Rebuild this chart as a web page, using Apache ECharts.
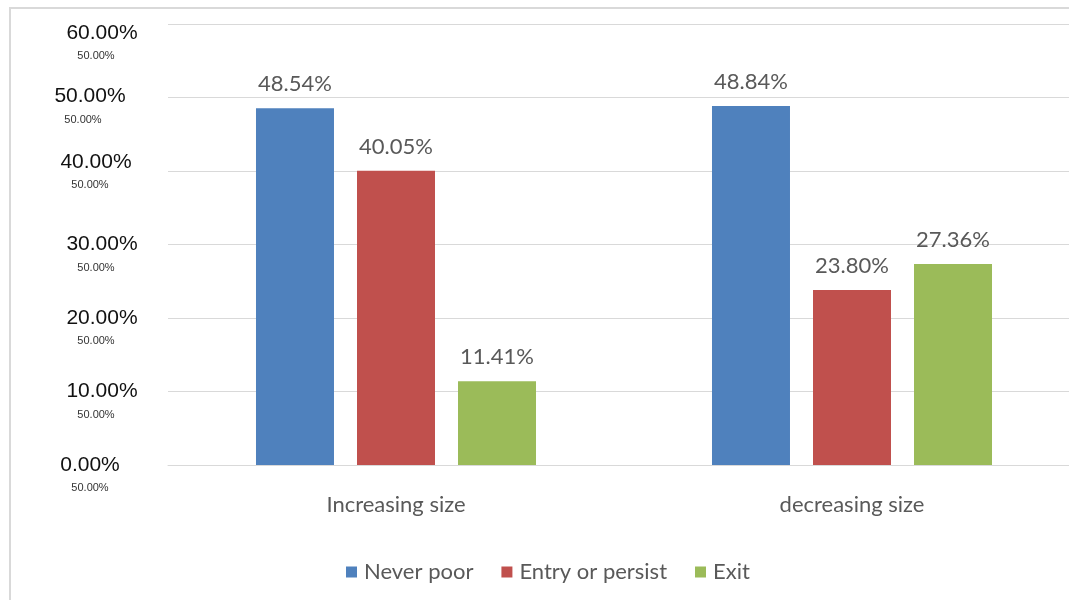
<!DOCTYPE html>
<html>
<head>
<meta charset="utf-8">
<title>Poverty transitions by household size change</title>
<script src="https://cdn.jsdelivr.net/npm/echarts@6/dist/echarts.min.js"></script>
<style>
  html, body { margin: 0; padding: 0; background: #ffffff; }
  #chart { width: 1069px; height: 600px; }
</style>
</head>
<body>
<div id="chart"></div>
<script>
// Household size change groups
const categories = ['Increasing size', 'decreasing size'];

// Share of households in each poverty transition (%)
const neverPoor = [48.54, 48.84];
const entryOrPersist = [40.05, 23.80];
const exitPoverty = [11.41, 27.36];

const seriesNames = ['Never poor', 'Entry or persist', 'Exit'];

// Value axis ticks and the small caption printed under every tick
const yTicks = [0, 10, 20, 30, 40, 50, 60];
const tickCaption = '50.00%';

const colors = ['#4f81bd', '#c0504d', '#9bbb59'];

// Per-tick nudges of the tick text (vertical offset, main shift, caption shift)
const tickNudge = {
  60: { dy: 9, main: 0, cap: -6 },
  50: { dy: -1, main: -12, cap: -19 },
  40: { dy: -9, main: -6, cap: -12 },
  30: { dy: 0, main: 0, cap: -6 },
  20: { dy: 0, main: 0, cap: -6 },
  10: { dy: 0, main: 0, cap: -6 },
  0: { dy: 0, main: -12, cap: -12 }
};

const rich = {};
yTicks.forEach(function (t) {
  const n = tickNudge[t];
  rich['s' + t] = { lineHeight: 22 + 2 * n.dy, fontSize: 1, align: 'center' };
  rich['m' + t] = {
    fontFamily: 'Liberation Sans, Arial, sans-serif', fontSize: 21, color: '#111111',
    lineHeight: 24, align: 'center',
    padding: n.main < 0 ? [0, -2 * n.main, 0, 0] : [0, 0, 0, 2 * n.main]
  };
  rich['c' + t] = {
    fontFamily: 'Liberation Sans, Arial, sans-serif', fontSize: 11, color: '#333333',
    lineHeight: 22, align: 'center',
    padding: n.cap < 0 ? [0, -2 * n.cap, 0, 0] : [0, 0, 0, 2 * n.cap]
  };
});

const labelFont = 'Lato, "Open Sans", sans-serif';

function barSeries(name, data, color) {
  return {
    name: name,
    type: 'bar',
    data: data,
    barWidth: 78,
    barGap: '29.5%',
    itemStyle: { color: color },
    label: {
      show: true,
      position: 'top',
      distance: 13,
      fontFamily: labelFont,
      fontSize: 22,
      color: '#595959',
      formatter: function (p) { return p.value.toFixed(2) + '%'; }
    }
  };
}

const chart = echarts.init(document.getElementById('chart'), null, { renderer: 'canvas' });

chart.setOption({
  animation: false,
  backgroundColor: '#ffffff',
  color: colors,
  graphic: [{
    type: 'rect',
    silent: true,
    z: -10,
    shape: { x: 10, y: 8, width: 1200, height: 800 },
    style: { fill: 'none', stroke: '#d9d9d9', lineWidth: 2 }
  }],
  grid: {
    left: 168, top: 24, width: 912, height: 441,
    containLabel: false,
    outerBoundsMode: 'none'
  },
  legend: {
    left: 341,
    top: 556,
    itemWidth: 11,
    itemHeight: 11,
    itemGap: 28,
    icon: 'rect',
    textStyle: {
      fontFamily: labelFont,
      fontSize: 22,
      color: '#595959',
      padding: [0, 0, 0, 2]
    },
    data: seriesNames
  },
  xAxis: {
    type: 'category',
    data: categories,
    axisLine: { show: true, lineStyle: { color: '#d9d9d9', width: 1 } },
    axisTick: { show: false },
    axisLabel: {
      margin: 29,
      fontFamily: labelFont,
      fontSize: 22,
      color: '#595959'
    }
  },
  yAxis: {
    type: 'value',
    min: yTicks[0],
    max: yTicks[yTicks.length - 1],
    interval: 10,
    axisLine: { show: false },
    axisTick: { show: false },
    splitLine: { lineStyle: { color: '#d9d9d9', width: 1 } },
    axisLabel: {
      align: 'center',
      verticalAlign: 'middle',
      margin: 66,
      formatter: function (v) {
        return '{s' + v + '|}\n{m' + v + '|' + v.toFixed(2) + '%}\n{c' + v + '|' + tickCaption + '}';
      },
      rich: rich
    }
  },
  series: [
    barSeries(seriesNames[0], neverPoor, colors[0]),
    barSeries(seriesNames[1], entryOrPersist, colors[1]),
    barSeries(seriesNames[2], exitPoverty, colors[2])
  ]
});
</script>
</body>
</html>
